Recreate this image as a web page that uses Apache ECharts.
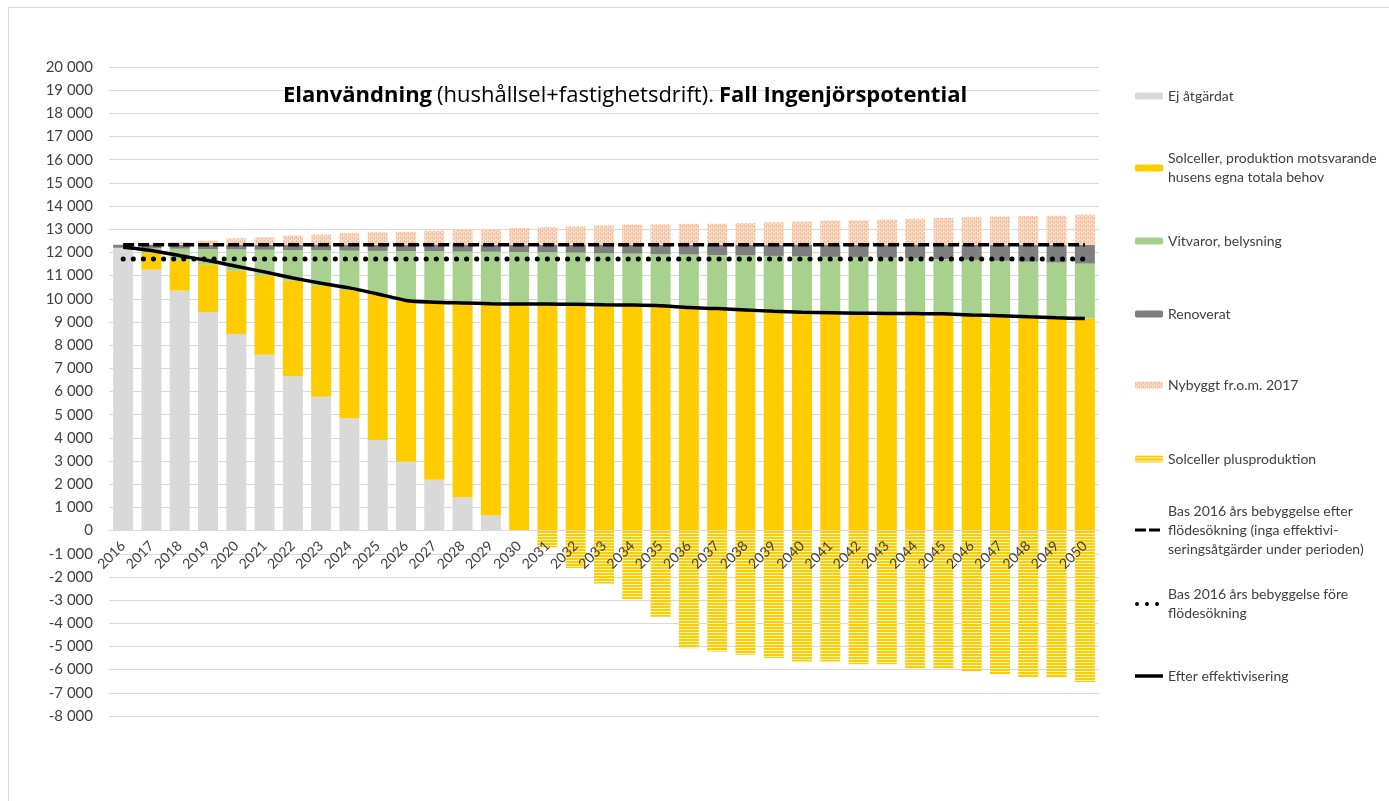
<!DOCTYPE html>
<html>
<head>
<meta charset="utf-8">
<script src="https://cdn.jsdelivr.net/npm/echarts@6/dist/echarts.min.js"></script>
<style>
html,body{margin:0;padding:0;background:#fff;}
#chart{width:1389px;height:801px;}
</style>
</head>
<body>
<div id="chart"></div>
<script>
const years = [2016,2017,2018,2019,2020,2021,2022,2023,2024,2025,2026,2027,2028,2029,2030,2031,2032,2033,2034,2035,2036,2037,2038,2039,2040,2041,2042,2043,2044,2045,2046,2047,2048,2049,2050].map(String);

const ejAtgardat = [12200,11260,10350,9420,8480,7590,6660,5770,4850,3910,2980,2190,1440,650,0,0,0,0,0,0,0,0,0,0,0,0,0,0,0,0,0,0,0,0,0];
const solceller = [0,720,1330,2050,2730,3410,4120,4800,5530,6260,6950,7660,8380,9140,9770,9770,9760,9740,9730,9700,9620,9580,9520,9460,9420,9400,9380,9370,9360,9350,9300,9270,9220,9180,9150];
const vitvaror = [0,200,480,670,920,1115,1320,1520,1695,1895,2125,2195,2215,2240,2250,2240,2230,2230,2220,2230,2290,2310,2350,2390,2410,2410,2410,2400,2380,2360,2380,2370,2380,2380,2370];
const renoverat = [130,150,170,190,200,215,230,240,255,265,275,285,295,300,310,320,340,360,380,400,420,440,460,480,500,520,540,560,590,620,650,690,730,770,810];
const nybyggt = [0,30,110,180,280,320,400,440,500,540,560,610,650,660,730,760,790,830,870,880,900,910,940,970,1000,1040,1050,1090,1120,1160,1190,1220,1240,1250,1300];
const plusproduktion = [0,0,0,0,0,0,0,0,0,0,0,0,0,0,0,-720,-1620,-2280,-2970,-3720,-5080,-5220,-5360,-5500,-5650,-5650,-5770,-5770,-5960,-5960,-6090,-6200,-6330,-6350,-6530];
const basEfter = [12330,12330,12330,12330,12330,12330,12330,12330,12330,12330,12330,12330,12330,12330,12330,12330,12330,12330,12330,12330,12330,12330,12330,12330,12330,12330,12330,12330,12330,12330,12330,12330,12330,12330,12330];
const basFore = [11720,11720,11720,11720,11720,11720,11720,11720,11720,11720,11720,11720,11720,11720,11720,11720,11720,11720,11720,11720,11720,11720,11720,11720,11720,11720,11720,11720,11720,11720,11720,11720,11720,11720,11720];
const efterEff = [12220,12080,11860,11650,11400,11160,10900,10670,10470,10210,9930,9850,9820,9790,9770,9770,9760,9740,9730,9700,9620,9580,9520,9460,9420,9400,9380,9370,9360,9350,9300,9270,9220,9180,9150];

const yMin = -8000, yMax = 20000, yStep = 1000;

const names = [
  'Ej åtgärdat',
  'Solceller, produktion motsvarande\nhusens egna totala behov',
  'Vitvaror, belysning',
  'Renoverat',
  'Nybyggt fr.o.m. 2017',
  'Solceller plusproduktion',
  'Bas 2016 års bebyggelse efter\nflödesökning (inga effektivi-\nseringsåtgärder under perioden)',
  'Bas 2016 års bebyggelse före\nflödesökning',
  'Efter effektivisering'
];
const legendY = [96,168,241,314,385,459,530,604,676];

function makePattern(w,h,draw){
  const c = document.createElement('canvas');
  c.width = w; c.height = h;
  const ctx = c.getContext('2d');
  draw(ctx);
  return {image:c, repeat:'repeat'};
}
const stripePattern = makePattern(4,3,function(ctx){
  ctx.fillStyle='#FFCC00'; ctx.fillRect(0,0,4,2);
  ctx.fillStyle='#FFF4C4'; ctx.fillRect(0,2,4,1);
});
const peachPattern = makePattern(4,4,function(ctx){
  ctx.fillStyle='#FCE4D6'; ctx.fillRect(0,0,4,4);
  ctx.fillStyle='#F6BE98';
  ctx.fillRect(0,0,1,3); ctx.fillRect(2,1,1,3);
  ctx.fillStyle='#F9D2B8';
  ctx.fillRect(1,2,1,2); ctx.fillRect(3,0,1,2);
});

function fmt(v){
  const s = Math.abs(v).toString().replace(/\B(?=(\d{3})+(?!\d))/g,' ');
  return (v<0?'-':'') + s;
}

const font = 'Lato';
const txtColor = '#404040';

const iconSpec = {
  6:{icon:'path://M0,0h11v3h-11z M14,0h11v3h-11z', w:25, h:3.5},
  7:{icon:'path://M0,2a2,2 0 1,0 4,0a2,2 0 1,0 -4,0z M10,2a2,2 0 1,0 4,0a2,2 0 1,0 -4,0z M20,2a2,2 0 1,0 4,0a2,2 0 1,0 -4,0z', w:24, h:4.5},
  8:{icon:'rect', w:28, h:3.5}
};

const legends = names.map(function(n,i){
  const lines = n.split('\n').length;
  const lh = 19;
  const spec = iconSpec[i];
  return {
    data:[spec ? {name:n, icon:spec.icon} : n],
    left:1135,
    top: legendY[i] - (lines*lh + (lines-1)*lh)/2,
    orient:'vertical',
    padding:0,
    itemWidth: spec ? spec.w : 28,
    itemHeight: spec ? spec.h : 7,
    selectedMode:false,
    textStyle:{fontFamily:font,fontSize:14,color:txtColor,lineHeight:lh,padding:[(lines-1)*lh,0,0,spec ? 28-spec.w : 0]}
  };
});

const gridTop = 67, gridBottom = 85, chartH = 801;
const plotH = chartH - gridTop - gridBottom;
const zeroOffset = -plotH * (0 - yMin) / (yMax - yMin);

const barBase = {type:'bar', stack:'a', barWidth:20};

const chart = echarts.init(document.getElementById('chart'));
chart.setOption({
  animation:false,
  backgroundColor:'#fff',
  graphic:[{type:'rect',shape:{x:8.5,y:7.5,width:1500,height:900},style:{fill:'none',stroke:'#d9d9d9',lineWidth:1},silent:true,z:-10}],
  title:{
    text:'{b|Elanvändning} {n|(hushållsel+fastighetsdrift).} {b|Fall Ingenjörspotential}',
    left:283, top:85, padding:0,
    textStyle:{rich:{
      b:{fontFamily:'Open Sans',fontSize:22,fontWeight:'bold',color:'#000'},
      n:{fontFamily:'Open Sans',fontSize:22,fontWeight:'normal',color:'#000'}
    }}
  },
  legend:legends,
  grid:{left:109,right:290,top:gridTop,bottom:gridBottom,containLabel:false},
  xAxis:{
    type:'category', data:years, position:'bottom', offset:zeroOffset, z:10,
    axisLine:{onZero:false,lineStyle:{color:'#d9d9d9',width:1}},
    axisTick:{show:false},
    axisLabel:{interval:0,rotate:45,fontFamily:font,fontSize:14,color:txtColor,margin:13}
  },
  yAxis:{
    type:'value', min:yMin, max:yMax, interval:yStep,
    axisLine:{show:false}, axisTick:{show:false},
    splitLine:{lineStyle:{color:'#d9d9d9',width:1}},
    axisLabel:{formatter:fmt,fontFamily:font,fontSize:15,color:txtColor,margin:16}
  },
  series:[
    Object.assign({},barBase,{name:names[0],data:ejAtgardat,itemStyle:{color:'#D9D9D9'}}),
    Object.assign({},barBase,{name:names[1],data:solceller,itemStyle:{color:'#FFCC00'}}),
    Object.assign({},barBase,{name:names[2],data:vitvaror,itemStyle:{color:'#A9D18E'}}),
    Object.assign({},barBase,{name:names[3],data:renoverat,itemStyle:{color:'#7F7F7F'}}),
    Object.assign({},barBase,{name:names[4],data:nybyggt,itemStyle:{color:peachPattern}}),
    Object.assign({},barBase,{name:names[5],data:plusproduktion,itemStyle:{color:stripePattern}}),
    {type:'line',name:names[6],data:basEfter,symbol:'none',z:5,
      lineStyle:{color:'#000',width:3.5,type:[11,4]},itemStyle:{color:'#000'}},
    {type:'line',name:names[7],data:basFore,symbol:'none',z:5,
      lineStyle:{color:'#000',width:5,type:[0.1,10],cap:'round'},itemStyle:{color:'#000'}},
    {type:'line',name:names[8],data:efterEff,symbol:'none',z:6,smooth:0.2,
      lineStyle:{color:'#000',width:3.5},itemStyle:{color:'#000'}}
  ]
});
</script>
</body>
</html>
